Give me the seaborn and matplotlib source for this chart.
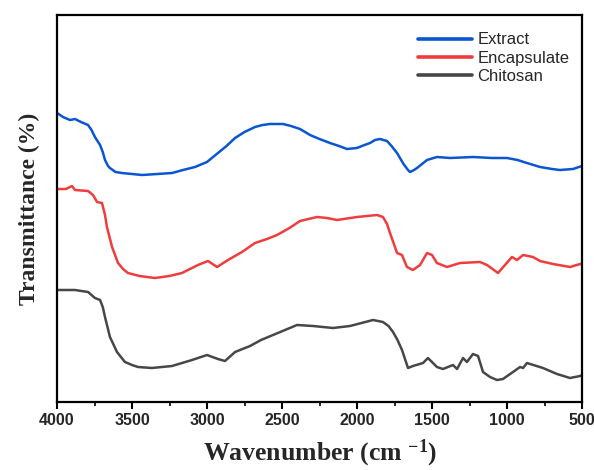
import numpy as np
import pandas as pd
import seaborn as sns
import matplotlib.pyplot as plt
from matplotlib.ticker import MultipleLocator

# FTIR spectra (wavenumber in cm^-1, transmittance in arbitrary offset units)
extract_wn = [4000, 3960, 3913, 3880, 3840, 3793, 3770, 3747, 3713, 3695, 3680, 3660,
              3647, 3610, 3567, 3500, 3433, 3330, 3233, 3160, 3080, 3000, 2927, 2870,
              2813, 2750, 2680, 2630, 2580, 2493, 2440, 2380, 2313, 2250, 2180, 2120,
              2067, 2000, 1950, 1913, 1880, 1847, 1800, 1770, 1733, 1690, 1660, 1647,
              1620, 1600, 1533, 1467, 1380, 1227, 1100, 1000, 930, 867, 780, 700, 647,
              560, 500]
extract_t = [289, 285, 282, 283, 280, 277, 272, 265, 257, 250, 242, 236,
             234, 230, 229, 228, 227, 228, 229, 232, 235, 240, 249, 256,
             264, 270, 275, 277, 278, 278, 276, 273, 267, 263, 259, 256,
             253, 254, 257, 259, 262, 263, 261, 256, 249, 238, 232, 230,
             232, 234, 242, 245, 244, 245, 244, 244, 242, 239, 235, 233, 232,
             233, 236]

encap_wn = [3993, 3940, 3900, 3880, 3793, 3760, 3733, 3700, 3680, 3667, 3633, 3593,
            3560, 3527, 3450, 3347, 3250, 3167, 3060, 2993, 2933, 2860, 2767, 2680,
            2600, 2533, 2450, 2380, 2267, 2200, 2133, 2000, 1867, 1827, 1800, 1780,
            1733, 1700, 1667, 1627, 1580, 1533, 1500, 1467, 1400, 1313, 1180, 1133,
            1060, 967, 933, 893, 827, 780, 693, 580, 513, 500]
encap_t = [213, 213, 216, 212, 211, 207, 200, 199, 187, 175, 155, 139,
           133, 129, 126, 124, 126, 129, 137, 141, 135, 142, 150, 159,
           163, 167, 174, 181, 185, 184, 182, 185, 187, 185, 178, 169,
           149, 147, 135, 132, 137, 149, 147, 139, 135, 139, 140, 137,
           129, 145, 142, 147, 145, 141, 138, 135, 138, 138]

chito_wn = [3993, 3880, 3793, 3747, 3713, 3695, 3680, 3647, 3600, 3547, 3500, 3460,
            3367, 3233, 3100, 3000, 2927, 2880, 2813, 2713, 2640, 2560, 2480, 2400,
            2293, 2160, 2047, 1970, 1893, 1827, 1790, 1760, 1730, 1700, 1660, 1627,
            1560, 1527, 1467, 1427, 1360, 1333, 1293, 1267, 1227, 1193, 1160, 1113,
            1067, 1027, 960, 913, 893, 867, 760, 667, 580, 513, 500]
chito_t = [112, 112, 110, 104, 102, 95, 85, 65, 50, 40, 37, 35,
           34, 36, 42, 47, 43, 41, 50, 56, 62, 67, 72, 77,
           76, 74, 76, 79, 82, 80, 76, 70, 62, 52, 34, 36,
           39, 44, 35, 33, 37, 33, 44, 40, 48, 46, 30, 25,
           22, 23, 30, 35, 34, 39, 34, 28, 24, 26, 27]

series_names = ["Extract", "Encapsulate", "Chitosan"]
series_colors = ["#0a55d2", "#f03c3c", "#474747"]

df = pd.concat([
    pd.DataFrame({"Wavenumber": extract_wn, "T": extract_t, "Sample": series_names[0]}),
    pd.DataFrame({"Wavenumber": encap_wn, "T": encap_t, "Sample": series_names[1]}),
    pd.DataFrame({"Wavenumber": chito_wn, "T": chito_t, "Sample": series_names[2]}),
], ignore_index=True)

sns.set_theme(style="white")
plt.rcParams["font.family"] = ["Liberation Sans", "DejaVu Sans"]
plt.rcParams["mathtext.fontset"] = "custom"
plt.rcParams["mathtext.rm"] = "Liberation Serif:bold"
plt.rcParams["mathtext.bf"] = "Liberation Serif:bold"
plt.rcParams["mathtext.default"] = "bf"

fig = plt.figure(figsize=(5.94, 4.70), dpi=100)
ax = fig.add_axes([57 / 594, 68 / 470, 525 / 594, 387 / 470])

sns.lineplot(data=df, x="Wavenumber", y="T", hue="Sample", hue_order=series_names,
             palette=series_colors, estimator=None, linewidth=1.8, ax=ax)

ax.set_xlim(4000, 500)
ax.set_ylim(0, 387)
ax.xaxis.set_major_locator(MultipleLocator(500))
ax.xaxis.set_minor_locator(MultipleLocator(250))
ax.set_yticks([])
ax.tick_params(axis="x", which="major", direction="out", length=5, width=1.5,
               bottom=True, top=False, labelsize=11.5, pad=3, color="black")
ax.tick_params(axis="x", which="minor", direction="out", length=3, width=1.2,
               bottom=True, top=False, color="black")
for lbl in ax.get_xticklabels():
    lbl.set_fontweight("bold")

for sp in ax.spines.values():
    sp.set_visible(True)
    sp.set_color("black")
    sp.set_linewidth(1.6)

ax.set_xlabel(r"Wavenumber (cm $^{\mathbf{-1}}$)", fontsize=18.5, fontweight="bold",
              family="Liberation Serif", labelpad=7)
ax.set_ylabel("Transmittance (%)", fontsize=17, fontweight="bold",
              family="Liberation Serif", labelpad=12)

leg = ax.legend(loc="upper left", bbox_to_anchor=(0.688, 0.955), frameon=False,
                fontsize=12, handlelength=3.25, handletextpad=0.3, labelspacing=0.2,
                borderpad=0, borderaxespad=0)
for h in leg.get_lines():
    h.set_linewidth(2.6)

fig.savefig("out.png", dpi=100)
